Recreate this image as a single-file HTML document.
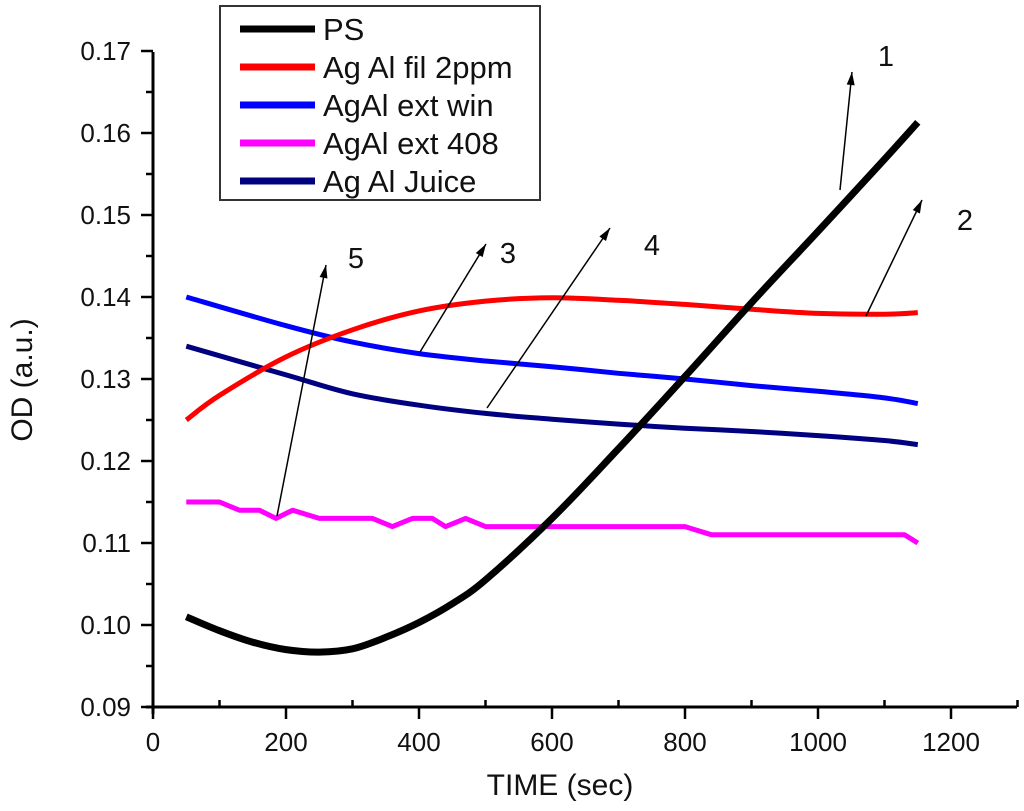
<!DOCTYPE html>
<html><head><meta charset="utf-8"><style>
body{margin:0;background:#fff;}
svg text{font-family:"Liberation Sans",Arial,sans-serif;fill:#111;}
</style></head><body>
<svg width="1024" height="806" xmlns="http://www.w3.org/2000/svg">
<g id="axes"></g>
<g id="series"></g>
<g id="ann"></g>
<g id="legend"></g>
</svg>
<script>
const xTicks=[0,200,400,600,800,1000,1200];
const yTicks=[0.09,0.10,0.11,0.12,0.13,0.14,0.15,0.16,0.17];
const yTickLabels=["0.09","0.10","0.11","0.12","0.13","0.14","0.15","0.16","0.17"];
const seriesNames=["PS","Ag Al fil 2ppm","AgAl ext win","AgAl ext 408","Ag Al Juice"];
const psT=[50,100,150,200,250,300,350,400,450,500,600,700,800,900,1000,1100,1150];
const psV=[0.101,0.0993,0.0979,0.0970,0.0967,0.0971,0.0985,0.1003,0.1026,0.1055,0.113,0.1215,0.1303,0.1393,0.148,0.1568,0.1613];
const redT=[50,100,200,300,400,500,600,700,800,900,1000,1100,1150];
const redV=[0.125,0.128,0.1327,0.136,0.1383,0.1395,0.1399,0.1396,0.1391,0.1385,0.138,0.1379,0.1381];
const blueT=[50,200,300,400,500,600,700,800,900,1000,1100,1150];
const blueV=[0.140,0.1365,0.1345,0.1331,0.1322,0.1315,0.1307,0.1300,0.1292,0.1285,0.1277,0.127];
const magT=[50,100,130,160,185,210,250,330,360,390,420,440,470,500,800,840,1130,1150];
const magV=[0.115,0.115,0.114,0.114,0.113,0.114,0.113,0.113,0.112,0.113,0.113,0.112,0.113,0.112,0.112,0.111,0.111,0.110];
const navyT=[50,200,300,400,500,600,700,800,900,1000,1100,1150];
const navyV=[0.134,0.1305,0.1282,0.1268,0.1258,0.1251,0.1245,0.124,0.1236,0.1231,0.1225,0.122];
const NS="http://www.w3.org/2000/svg";
const X=t=>153+t*0.665;
const Y=v=>707-(v-0.09)*8200;
function mk(tag,attrs,parent){const e=document.createElementNS(NS,tag);for(const k in attrs)e.setAttribute(k,attrs[k]);parent.appendChild(e);return e;}
function smooth(P){let d='M'+P[0][0].toFixed(1)+','+P[0][1].toFixed(1);
 for(let i=0;i<P.length-1;i++){const p0=P[i-1]||P[i],p1=P[i],p2=P[i+1],p3=P[i+2]||P[i+1];
  const c1=[p1[0]+(p2[0]-p0[0])/6,p1[1]+(p2[1]-p0[1])/6],c2=[p2[0]-(p3[0]-p1[0])/6,p2[1]-(p3[1]-p1[1])/6];
  d+=` C${c1[0].toFixed(1)},${c1[1].toFixed(1)} ${c2[0].toFixed(1)},${c2[1].toFixed(1)} ${p2[0].toFixed(1)},${p2[1].toFixed(1)}`;}
 return d;}
const axes=document.getElementById('axes');
let e;
e=mk('line',{x1:153,y1:52,x2:153,y2:714,stroke:'#000','stroke-width':3},axes);

e=mk('line',{x1:146,y1:707,x2:1017,y2:707,stroke:'#000','stroke-width':3},axes);

yTicks.forEach((v,i)=>{
 e=mk('line',{x1:141,y1:Y(v),x2:153,y2:Y(v),stroke:'#000','stroke-width':2.5},axes);
 
 if(i<yTicks.length-1){e=mk('line',{x1:146,y1:Y(v+0.005),x2:153,y2:Y(v+0.005),stroke:'#000','stroke-width':2.5},axes);
 }
 e=mk('text',{x:131,y:Y(v)+9,'font-size':26,'text-anchor':'end'},axes);e.textContent=yTickLabels[i];
 
});
xTicks.forEach(t=>{
 e=mk('line',{x1:X(t),y1:707,x2:X(t),y2:719,stroke:'#000','stroke-width':2.5},axes);
 
 e=mk('line',{x1:X(t+100),y1:700,x2:X(t+100),y2:707,stroke:'#000','stroke-width':2.5},axes);
 
 e=mk('text',{x:X(t),y:751,'font-size':26,'text-anchor':'middle'},axes);e.textContent=String(t);
 
});
e=mk('text',{x:560,y:795,'font-size':30,'text-anchor':'middle'},axes);e.textContent='TIME (sec)';

e=mk('text',{x:0,y:0,'font-size':30,'text-anchor':'middle',transform:'translate(32,380) rotate(-90)'},axes);e.textContent='OD (a.u.)';

const ser=document.getElementById('series');
const defs=[[psT,psV,'#000',7,'ps-line',1],[redT,redV,'#ff0000',5,'red-line',1],[blueT,blueV,'#0000ff',5,'blue-line',1],[magT,magV,'#ff00ff',5,'magenta-line',0],[navyT,navyV,'#000080',5,'navy-line',1]];
const order=[2,4,3,1,0];
order.forEach(i=>{const [T,V,c,w,n,s]=defs[i];
 const P=T.map((t,j)=>[X(t),Y(V[j])]);
 if(s){e=mk('path',{d:smooth(P),fill:'none',stroke:c,'stroke-width':w},ser);}
 else{e=mk('polyline',{points:P.map(p=>p[0].toFixed(1)+','+p[1].toFixed(1)).join(' '),fill:'none',stroke:c,'stroke-width':w,'stroke-linejoin':'round'},ser);}
 
});
const ann=document.getElementById('ann');
const arrows=[[840,190,852,72,'1',886,66],[866,316,922,200,'2',965,230],[420,352,486,244,'3',508,263],[487,408,610,228,'4',652,255],[277,516,326,265,'5',356,268]];
arrows.forEach(a=>{
 const [x1,y1,x2,y2,l,lx,ly]=a;
 e=mk('line',{x1,y1,x2,y2,stroke:'#000','stroke-width':1.5},ann);
 
 const ang=Math.atan2(y2-y1,x2-x1),L=13,W=4;
 const bx=x2-L*Math.cos(ang),by=y2-L*Math.sin(ang);
 const p=`${x2},${y2} ${bx+W*Math.sin(ang)},${by-W*Math.cos(ang)} ${bx-W*Math.sin(ang)},${by+W*Math.cos(ang)}`;
 e=mk('polygon',{points:p,fill:'#000'},ann);
 
 e=mk('text',{x:lx,y:ly,'font-size':29,'text-anchor':'middle'},ann);e.textContent=l;
 
});
const leg=document.getElementById('legend');
e=mk('rect',{x:220,y:6,width:320,height:194,fill:'#fff',stroke:'#333','stroke-width':2},leg);

seriesNames.forEach((n,i)=>{const y=29+i*38;
 e=mk('line',{x1:240,y1:y,x2:315,y2:y,stroke:defs[i][2],'stroke-width':7},leg);
 
 e=mk('text',{x:323,y:y+11,'font-size':31},leg);e.textContent=n;
 
});
</script>
</body></html>
